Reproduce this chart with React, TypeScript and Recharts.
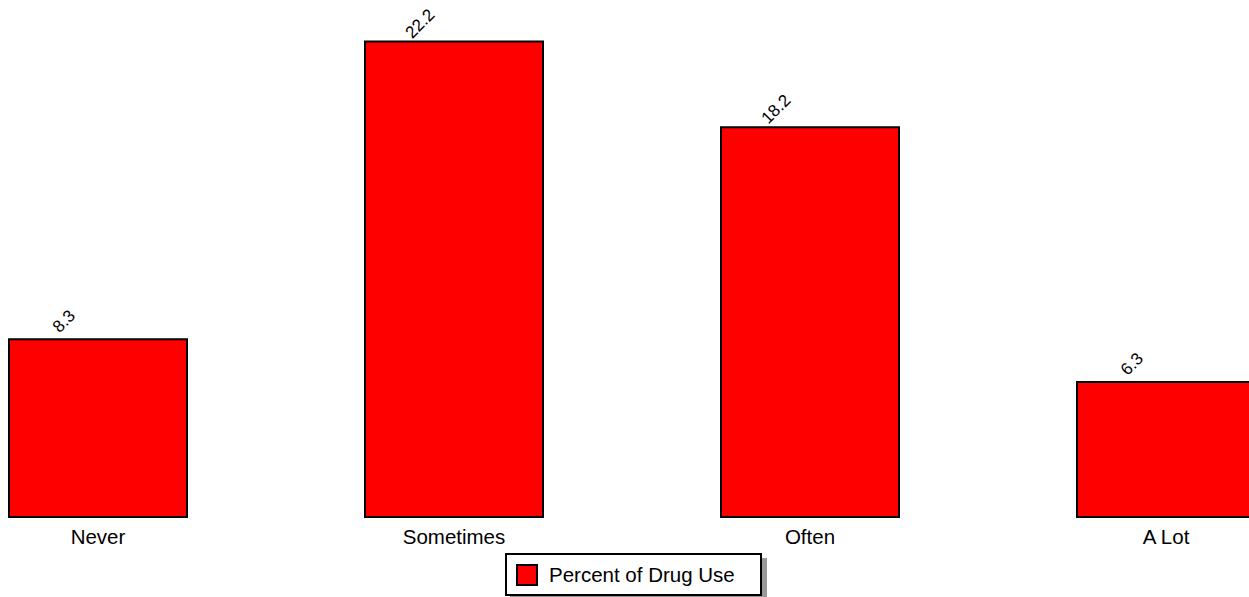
import React from "react";
import { BarChart, Bar, XAxis, YAxis, Legend, LabelList } from "recharts";

const categories = ["Never", "Sometimes", "Often", "A Lot"];
const drugUse = [8.3, 22.2, 18.2, 6.3];
const seriesName = "Percent of Drug Use";

const data = categories.map((c, i) => ({ category: c, value: drugUse[i] }));

const FONT = "'Liberation Sans', Arial, sans-serif";

const RotatedLabel = (props: any) => {
  const { x, y, width, value } = props;
  const cx = x + width / 2 - 34;
  const cy = y - 18;
  return (
    <text
      x={cx}
      y={cy}
      transform={`rotate(-45, ${cx}, ${cy})`}
      textAnchor="middle"
      dominantBaseline="central"
      fontSize={17}
      fontFamily={FONT}
      fill="#000"
    >
      {value}
    </text>
  );
};

const LegendBox = () => (
  <div
    style={{
      boxSizing: "border-box",
      width: 257,
      height: 43,
      border: "2px solid #000",
      background: "#fff",
      boxShadow: "5px 5px 0 #999",
      display: "flex",
      alignItems: "center",
      paddingLeft: 9,
      fontFamily: FONT,
      fontSize: 20.5,
      color: "#000",
    }}
  >
    <span
      style={{
        boxSizing: "border-box",
        width: 22,
        height: 22,
        background: "#ff0000",
        border: "2px solid #000",
        marginRight: 11,
      }}
    />
    {seriesName}
  </div>
);

export default function App() {
  return (
    <div
      style={{
        position: "fixed",
        left: 0,
        top: 0,
        width: 1249,
        height: 597,
        overflow: "hidden",
        background: "#fff",
      }}
    >
      <div style={{ position: "absolute", left: -80.5, top: 0 }}>
        <BarChart
          width={1424}
          height={597}
          data={data}
          margin={{ top: 3, right: 0, bottom: 0, left: 0 }}
          barCategoryGap="25%"
        >
          <XAxis
            dataKey="category"
            height={80}
            axisLine={false}
            tickLine={false}
            tickMargin={6}
            interval={0}
            tick={{ fontSize: 20.5, fill: "#000", fontFamily: FONT }}
          />
          <YAxis hide domain={[0, 24]} />
          <Legend
            layout="vertical"
            align="center"
            verticalAlign="middle"
            content={<LegendBox />}
            wrapperStyle={{ left: 585.5, top: 553, width: 262, height: 48 }}
          />
          <Bar
            dataKey="value"
            name={seriesName}
            fill="#ff0000"
            stroke="#000"
            strokeWidth={2}
            isAnimationActive={false}
          >
            <LabelList dataKey="value" content={<RotatedLabel />} />
          </Bar>
        </BarChart>
      </div>
    </div>
  );
}
